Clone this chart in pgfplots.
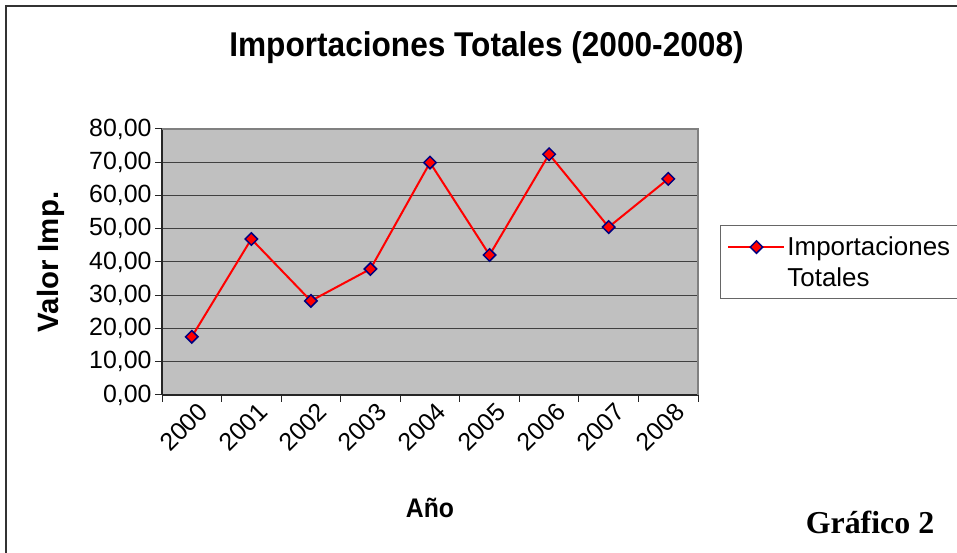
\documentclass[border=0pt]{standalone}
\usepackage{pgfplots}
\pgfplotsset{compat=1.18}
\usepackage{fontspec}
\setmainfont{Liberation Sans}
\newfontfamily\stretchfont[FakeStretch=0.92]{Liberation Sans}
\newfontfamily\timesfont{Liberation Serif}
\definecolor{plotgray}{HTML}{C0C0C0}
\definecolor{navymark}{HTML}{000080}
\definecolor{bordergray}{HTML}{808080}
\begin{document}
\begin{tikzpicture}[x=1bp,y=1bp]
\useasboundingbox (0,0) rectangle (957,553);
\draw[line width=1.5bp, black!80] (6,-5) -- (6,547) -- (975,547);
\node[font=\stretchfont\fontsize{34.5}{40}\selectfont\bfseries] at (486.5,505) {Importaciones Totales (2000-2008)};
\node[font=\timesfont\fontsize{32}{36}\selectfont\bfseries] at (870,31) {Gráfico 2};
\begin{axis}[
  at={(162bp,158bp)}, anchor=south west,
  scale only axis, width=536bp, height=266bp,
  xmin=0, xmax=9, ymin=0, ymax=80,
  axis background/.style={fill=plotgray},
  axis x line*=bottom, axis y line*=left,
  axis line style={black!85, line width=1.5bp},
  tick align=outside, major tick length=7bp,
  tick style={black!85, line width=1bp},
  xtick={0,...,9}, xticklabels={},
  extra x ticks={0.5,1.5,...,8.5},
  extra x tick labels={2000,2001,2002,2003,2004,2005,2006,2007,2008},
  extra x tick style={major tick length=0pt, grid=none,
    tick label style={rotate=45, anchor=east, xshift=3bp, yshift=-17bp}},
  ytick={0,10,...,80},
  ymajorgrids, grid style={black!75, line width=1bp},
  /pgf/number format/assume math mode=true,
  yticklabel style={/pgf/number format/.cd, fixed, fixed zerofill, precision=2, use comma},
  ticklabel style={font=\fontsize{25}{28}\selectfont},
  xlabel={Año}, ylabel={Valor Imp.},
  xlabel style={font=\stretchfont\fontsize{27}{30}\selectfont\bfseries, at={(axis description cs:0.5,-0.425)}, anchor=center},
  ylabel style={font=\fontsize{29.5}{32}\selectfont\bfseries, at={(axis description cs:-0.207,0.5)}, anchor=center},
  legend style={at={(rel axis cs:1.041,0.639)}, anchor=north west,
    draw=black!60, line width=1bp, font=\fontsize{26}{31}\selectfont,
    cells={align=left}, inner xsep=7bp, inner ysep=9bp},
  legend cell align=left,
  legend image code/.code={\draw[mark repeat=2, mark phase=2, yshift=15bp, #1] plot coordinates {(0bp,0bp)(28bp,0bp)(56bp,0bp)};},
  clip=false,
]
\addplot[red, line width=2bp, mark=square*, mark size=4.4bp,
  mark options={rotate=45, fill=red, draw=navymark, line width=1.5bp, solid}]
  coordinates {(0.5,17.5) (1.5,46.9) (2.5,28.3) (3.5,37.9) (4.5,69.9) (5.5,42.1) (6.5,72.4) (7.5,50.5) (8.5,65.0)};
\addlegendentry{Importaciones\\Totales}
\draw[bordergray, line width=2bp] (rel axis cs:0,1) -- (rel axis cs:1,1) -- (rel axis cs:1,0);
\end{axis}
\end{tikzpicture}
\end{document}
